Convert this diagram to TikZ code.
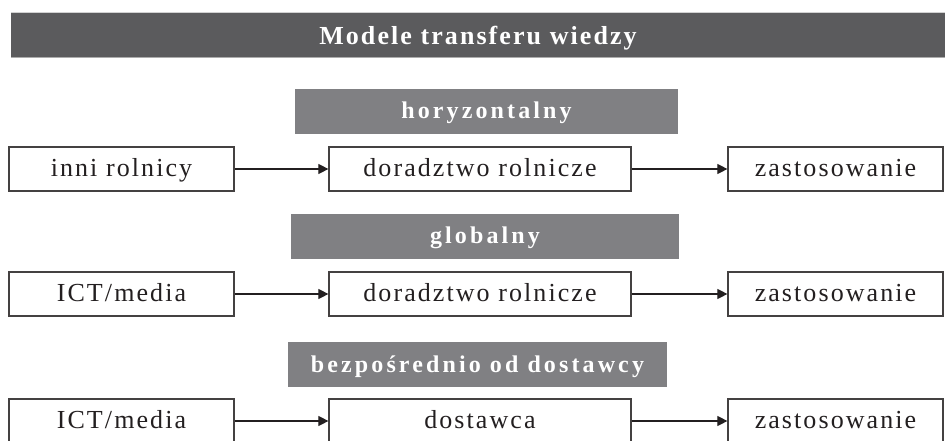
\documentclass[tikz,border=0pt]{standalone}
\usepackage{fontspec}
\setmainfont{Liberation Serif}
\newfontfamily\bodyfont{Liberation Serif}[LetterSpace=8]
\newfontfamily\headfont{Liberation Serif}[LetterSpace=13]
\newfontfamily\titlefont{Liberation Serif}[LetterSpace=8]
\usetikzlibrary{arrows.meta}
\definecolor{titlegray}{HTML}{5B5B5D}
\definecolor{headgray}{HTML}{808083}
\definecolor{ink}{HTML}{231F20}
\tikzset{
  stagebox/.style={draw=ink!85, line width=1.2pt, fill=white, minimum height=44pt,
    inner sep=0pt, text height=20pt, text depth=5pt,
    font=\bodyfont\fontsize{26}{30}\selectfont, text=ink},
  headbox/.style={fill=headgray, minimum height=45pt, inner sep=0pt,
    text height=19pt, text depth=4pt,
    font=\headfont\bfseries\fontsize{24}{28}\selectfont, text=white},
  titlebox/.style={fill=titlegray, minimum height=44pt, inner sep=0pt,
    text height=22pt, text depth=3.4pt,
    font=\titlefont\bfseries\fontsize{26}{30}\selectfont, text=white},
  flow/.style={draw=ink, line width=1.1pt, -{Triangle[length=10pt,width=10pt]}}
}
\begin{document}
\begin{tikzpicture}[x=1pt,y=-1pt]
\useasboundingbox (0,0) rectangle (945,441);
\clip (0,0) rectangle (945,441);
% title bar
\node[titlebox, minimum width=934pt] (title) at (478,35) {Modele transferu wiedzy};
\draw[gray!35, line width=1pt] (title.north west) -- (title.north east);
\draw[gray!65, line width=1pt] (title.south west) -- (title.south east);
% headers
\node[headbox, minimum width=383pt] (h1) at (486.5,111.5) {horyzontalny};
\node[headbox, minimum width=388pt] (h2) at (485,236) {globalny};
\node[headbox, minimum width=379pt] (h3) at (477.5,364.5) {bezpośrednio od dostawcy};
% row 1
\node[stagebox, minimum width=225pt] (a1) at (121.5,169) {inni rolnicy};
\node[stagebox, minimum width=302pt] (a2) at (480,169) {doradztwo rolnicze};
\node[stagebox, minimum width=215pt] (a3) at (835.5,169) {zastosowanie};
% row 2
\node[stagebox, minimum width=225pt] (b1) at (121.5,294) {ICT/media};
\node[stagebox, minimum width=302pt] (b2) at (480,294) {doradztwo rolnicze};
\node[stagebox, minimum width=215pt] (b3) at (835.5,294) {zastosowanie};
% row 3
\node[stagebox, minimum width=225pt] (c1) at (121.5,421) {ICT/media};
\node[stagebox, minimum width=302pt] (c2) at (480,421) {dostawca};
\node[stagebox, minimum width=215pt] (c3) at (835.5,421) {zastosowanie};
% arrows
\draw[flow] (a1) -- (a2);
\draw[flow] (a2) -- (a3);
\draw[flow] (b1) -- (b2);
\draw[flow] (b2) -- (b3);
\draw[flow] (c1) -- (c2);
\draw[flow] (c2) -- (c3);
\end{tikzpicture}
\end{document}
